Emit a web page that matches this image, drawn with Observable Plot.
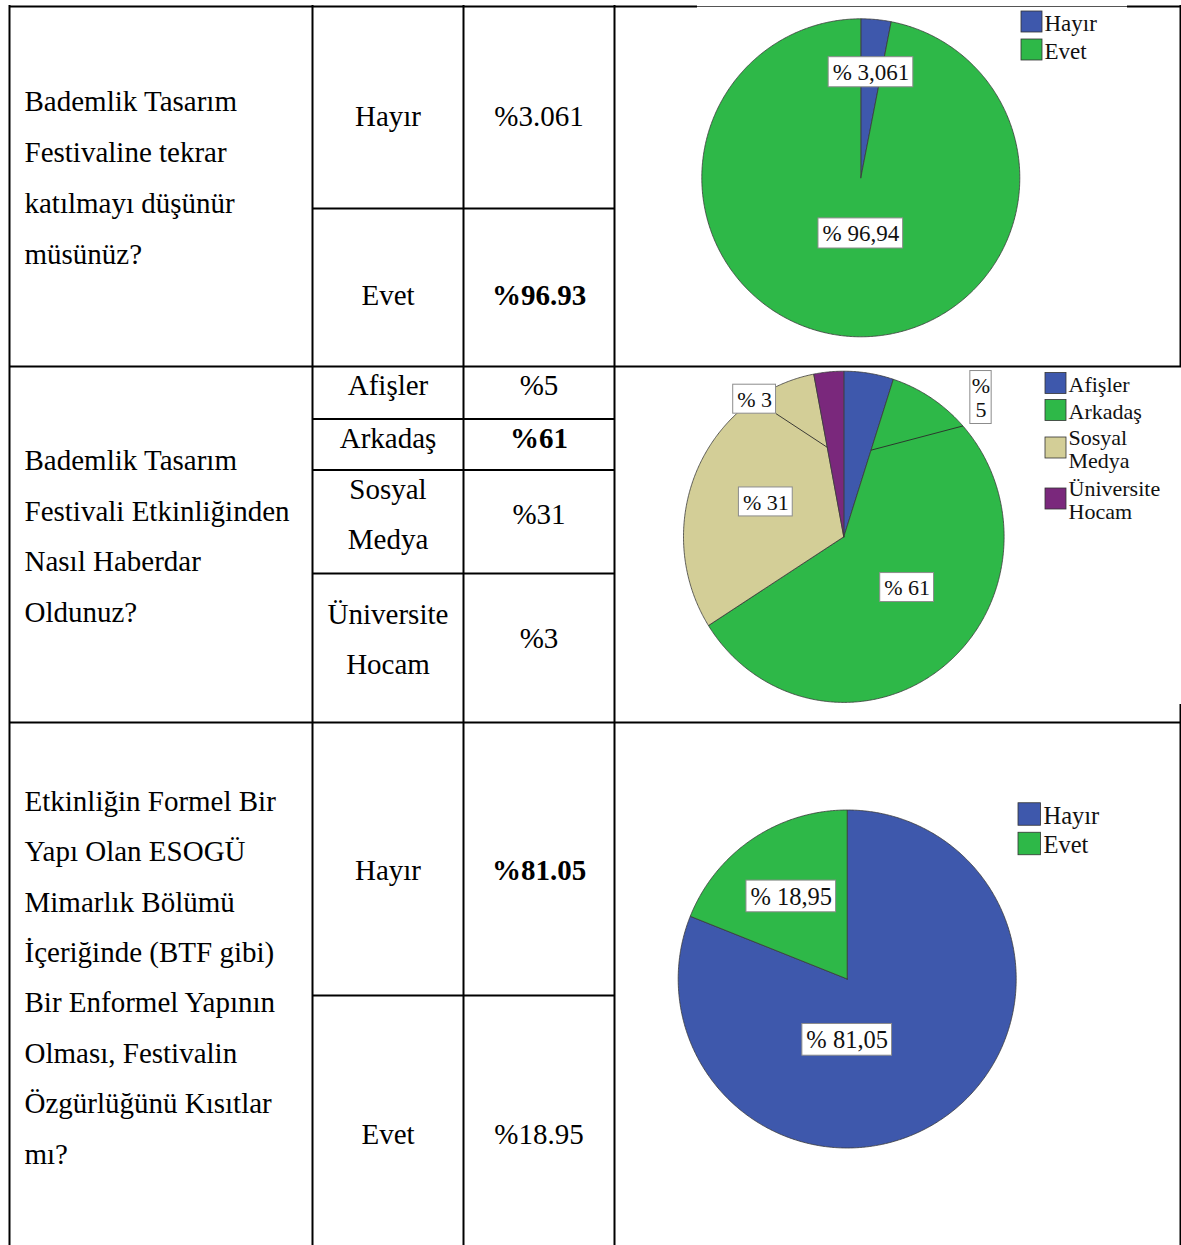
<!DOCTYPE html>
<html><head><meta charset="utf-8">
<script src="https://cdn.jsdelivr.net/npm/d3@7"></script>
<script src="https://cdn.jsdelivr.net/npm/@observablehq/plot@0.6"></script>
<style>html,body{margin:0;padding:0;background:#fff}#chart svg{display:block}</style>
</head><body><div id="chart"></div>
<script>
// ---------------- data ----------------
const q1Question = ["Bademlik Tasarım", "Festivaline tekrar", "katılmayı düşünür", "müsünüz?"];
const q1Answers = ["Hayır", "Evet"];
const q1TableValues = [3.061, 96.93];
const q1PieValues = [3.061, 96.94];

const q2Question = ["Bademlik Tasarım", "Festivali Etkinliğinden", "Nasıl Haberdar", "Oldunuz?"];
const q2Answers = ["Afişler", "Arkadaş", "Sosyal Medya", "Üniversite Hocam"];
const q2TableValues = [5, 61, 31, 3];
const q2PieValues = [5, 61, 31, 3];

const q3Question = ["Etkinliğin Formel Bir", "Yapı Olan ESOGÜ", "Mimarlık Bölümü", "İçeriğinde (BTF gibi)",
  "Bir Enformel Yapının", "Olması, Festivalin", "Özgürlüğünü Kısıtlar", "mı?"];
const q3Answers = ["Hayır", "Evet"];
const q3TableValues = [81.05, 18.95];
const q3PieValues = [81.05, 18.95];

const colorDomain = ["Hayır", "Evet", "Afişler", "Arkadaş", "Sosyal Medya", "Üniversite Hocam"];
const colorRange = ["#3e58ac", "#2eb848", "#3e58ac", "#2eb848", "#d3ce97", "#7a287c"];

// ---------------- layout ----------------
const W = 1181, H = 1245;
const FONT = "'Liberation Serif','Times New Roman',Times,serif";
const TEXT_X = 24, COL2 = 387.5, COL3 = 538.5;

const blocks = [
  { question: q1Question, answers: q1Answers, tableValues: q1TableValues, pieValues: q1PieValues,
    qY0: 101.7, qStep: 50.7,
    answerY: [[116.7], [295.7]], pctY: [116.7, 295.7],
    pie: {cx: 860.3, cy: 177.3, rx: 159, ry: 159, font: 23},
    labels: [{f: 0.667}, {f: 0.35, angle: 180}],
    legend: {x: 1021, size: 21, textX: 1044, font: 23, cy: [21.5, 49.5], lh: 23} },
  { question: q2Question, answers: q2Answers, tableValues: q2TableValues, pieValues: q2PieValues,
    qY0: 460.3, qStep: 50.7,
    answerY: [[385], [438.4], [489, 539], [614.7, 664.7]], pctY: [385, 438.4, 514, 638.7],
    pie: {cx: 843.3, cy: 536.3, rx: 160.3, ry: 165.6, font: 22},
    labels: [{f: 1.2, angle: 45.5, stack: true, leader: "end"}, {f: 0.5}, {f: 0.53},
             {f: 1.0, angle: -33.8, leader: "start"}],
    legend: {x: 1045, size: 21, textX: 1068, font: 22, cy: [383, 410, 447.5, 498.5], lh: 23} },
  { question: q3Question, answers: q3Answers, tableValues: q3TableValues, pieValues: q3PieValues,
    qY0: 801, qStep: 50.4,
    answerY: [[870], [1134]], pctY: [870, 1134],
    pie: {cx: 846.7, cy: 978.5, rx: 169, ry: 169, font: 24.5},
    labels: [{f: 0.36, angle: 180}, {f: 0.59}],
    legend: {x: 1018, size: 22.5, textX: 1043, font: 24.5, cy: [814, 843.5], lh: 24} }
];

const hRules = [
  {y: 6, x1: 9, x2: 697}, {y: 6, x1: 1127, x2: 1181},
  {y: 208, x1: 312, x2: 614}, {y: 366, x1: 9, x2: 1181},
  {y: 418.5, x1: 312, x2: 614}, {y: 469.5, x1: 312, x2: 614}, {y: 573, x1: 312, x2: 614},
  {y: 722, x1: 9, x2: 1181}, {y: 995, x1: 312, x2: 614}
];
const hRulesThin = [{y: 6, x1: 697, x2: 1127}];
const vRules = [
  {x: 9, y1: 5, y2: 1245}, {x: 312, y1: 5, y2: 1245}, {x: 463, y1: 5, y2: 1245}, {x: 614, y1: 5, y2: 1245},
  {x: 1180, y1: 5, y2: 367}, {x: 1180, y1: 704, y2: 1245}
];

// ---------------- build ----------------
const ctx = document.createElement("canvas").getContext("2d");
function tw(s, size) { ctx.font = `${size}px 'Liberation Serif'`; return ctx.measureText(s).width; }
function polar(p, ang, f) { return {x: p.cx + p.rx * f * Math.sin(ang), y: p.cy - p.ry * f * Math.cos(ang)}; }

const questionLines = [], answerLines = [], pctTexts = [];
const polys = [], labelItems = [], leaders = [], legendSq = [], legendTx = [];

blocks.forEach((b, bi) => {
  b.question.forEach((t, i) => questionLines.push({x: TEXT_X, y: b.qY0 + i * b.qStep, text: t}));
  b.answers.forEach((a, i) => a.split(" ").forEach((w, j) => answerLines.push({x: COL2, y: b.answerY[i][j], text: w})));
  const mx = d3.max(b.tableValues);
  b.tableValues.forEach((v, i) => pctTexts.push({x: COL3, y: b.pctY[i], text: "%" + v, bold: v === mx}));

  const p = b.pie;
  const arcs = d3.pie().sort(null).value(d => d)(b.pieValues);
  arcs.forEach((a, i) => {
    const key = `p${bi}-${i}`, label = b.answers[i];
    const n = Math.max(2, Math.ceil((a.endAngle - a.startAngle) / (Math.PI / 360)));
    polys.push({x: p.cx, y: p.cy, key, label});
    for (let k = 0; k <= n; k++) {
      const pt = polar(p, a.startAngle + (a.endAngle - a.startAngle) * k / n, 1);
      polys.push({...pt, key, label});
    }
    polys.push({x: p.cx, y: p.cy, key, label});

    const l = b.labels[i];
    const ang = l.angle != null ? l.angle * Math.PI / 180 : (a.startAngle + a.endAngle) / 2;
    const c = polar(p, ang, l.f);
    const num = String(b.pieValues[i]).replace(".", ",");
    const text = l.stack ? "%\n" + num : "% " + num;
    const lines = text.split("\n");
    const w = d3.max(lines, s => tw(s, p.font)) + (l.stack ? 3 : 8);
    const h = lines.length * p.font * 1.09 + 5;
    const item = {x: c.x, y: c.y, text, font: p.font, x1: c.x - w / 2, x2: c.x + w / 2, y1: c.y - h / 2, y2: c.y + h / 2, pie: bi};
    labelItems.push(item);
    if (l.leader) {
      const inner = polar(p, l.leader === "end" ? a.endAngle : a.startAngle, 0.55);
      const corners = [[item.x1, item.y1], [item.x2, item.y1], [item.x1, item.y2], [item.x2, item.y2]];
      const corner = d3.least(corners, q => Math.hypot(q[0] - p.cx, q[1] - p.cy));
      const inside = (qx, qy) => ((qx - p.cx) / p.rx) ** 2 + ((qy - p.cy) / p.ry) ** 2 <= 1;
      let end = corner;
      if (!inside(corner[0], corner[1])) {
        let lo = 0, hi = 1;
        for (let k = 0; k < 40; k++) {
          const t = (lo + hi) / 2;
          const qx = inner.x + (corner[0] - inner.x) * t, qy = inner.y + (corner[1] - inner.y) * t;
          if (inside(qx, qy)) lo = t; else hi = t;
        }
        end = [inner.x + (corner[0] - inner.x) * lo, inner.y + (corner[1] - inner.y) * lo];
      }
      leaders.push({x1: inner.x, y1: inner.y, x2: end[0], y2: end[1]});
    }
  });

  const L = b.legend;
  b.answers.forEach((a, i) => {
    const cy = L.cy[i];
    legendSq.push({x1: L.x, x2: L.x + L.size, y1: cy - L.size / 2, y2: cy + L.size / 2, label: a});
    const parts = a.split(" ");
    parts.forEach((w, j) => legendTx.push({x: L.textX, y: cy + 1.5 + (j - (parts.length - 1) / 2) * L.lh, text: w, block: bi}));
  });
});

const marks = [
  Plot.line(polys, {x: "x", y: "y", z: "key", fill: "label", stroke: "#3a3a3a", strokeWidth: 0.8, strokeLinejoin: "round"}),
  Plot.link(leaders, {x1: "x1", y1: "y1", x2: "x2", y2: "y2", stroke: "#2a2a2a", strokeWidth: 0.9}),
  Plot.rect(labelItems, {x1: "x1", x2: "x2", y1: "y1", y2: "y2", fill: "white", stroke: "#8c8c8c", strokeWidth: 1})
];
[0, 1, 2].forEach(bi => {
  marks.push(Plot.text(labelItems.filter(d => d.pie === bi), {x: "x", y: "y", text: "text", fontSize: blocks[bi].pie.font,
    lineHeight: 1.09, fill: "#111", textAnchor: "middle", lineAnchor: "middle"}));
  marks.push(Plot.text(legendTx.filter(d => d.block === bi),
    {x: "x", y: "y", text: "text", fontSize: blocks[bi].legend.font, fill: "#111", textAnchor: "start", lineAnchor: "middle"}));
});
marks.push(
  Plot.rect(legendSq, {x1: "x1", x2: "x2", y1: "y1", y2: "y2", fill: "label", stroke: "#333", strokeWidth: 0.8}),
  Plot.ruleY(hRules, {y: "y", x1: "x1", x2: "x2", stroke: "black", strokeWidth: 2}),
  Plot.ruleY(hRulesThin, {y: "y", x1: "x1", x2: "x2", stroke: "#555", strokeWidth: 1}),
  Plot.ruleX(vRules, {x: "x", y1: "y1", y2: "y2", stroke: "black", strokeWidth: 2}),
  Plot.text(questionLines, {x: "x", y: "y", text: "text", fontSize: 29, fill: "black", textAnchor: "start", lineAnchor: "middle"}),
  Plot.text(answerLines, {x: "x", y: "y", text: "text", fontSize: 29, fill: "black", textAnchor: "middle", lineAnchor: "middle"}),
  Plot.text(pctTexts.filter(d => !d.bold), {x: "x", y: "y", text: "text", fontSize: 29, fill: "black", textAnchor: "middle", lineAnchor: "middle"}),
  Plot.text(pctTexts.filter(d => d.bold), {x: "x", y: "y", text: "text", fontSize: 29, fontWeight: "bold", fill: "black", textAnchor: "middle", lineAnchor: "middle"})
);

const chart = Plot.plot({
  width: W, height: H, margin: 0,
  x: {domain: [0, W], range: [0, W], axis: null},
  y: {domain: [0, H], range: [0, H], axis: null},
  color: {domain: colorDomain, range: colorRange},
  style: {fontFamily: FONT, background: "white", color: "black"},
  marks
});
document.getElementById("chart").appendChild(chart);
</script>
</body></html>
